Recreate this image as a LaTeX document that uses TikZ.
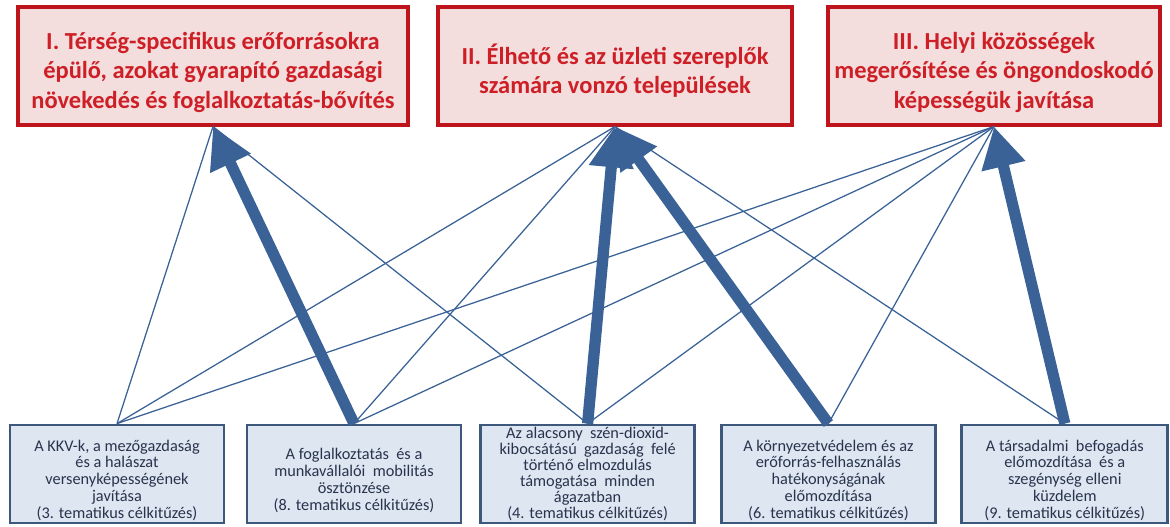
\documentclass[tikz,border=0pt]{standalone}
\usepackage{fontspec}
\setmainfont{Carlito}
\usepackage{tikz}
\usepackage{xcolor}
\usetikzlibrary{arrows.meta, positioning}
\definecolor{prioritycolor}{RGB}{243,221,221}
\definecolor{priorityborder}{RGB}{190,20,28}
\definecolor{prioritytext}{RGB}{206,30,38}
\definecolor{goalcolor}{RGB}{222,230,242}
\definecolor{goalborder}{RGB}{62,88,124}
\definecolor{goaltext}{RGB}{40,52,76}
\definecolor{linkcolor}{RGB}{58,98,150}
\newcommand{\prioritystrut}{\rule{0pt}{21pt}}
\newcommand{\goalstrut}{\rule{0pt}{17pt}}
\tikzstyle{priority} = [rectangle, draw=priorityborder, line width=2.2pt, fill=prioritycolor, text=prioritytext, align=center, font=\fontsize{17.4}{21}\selectfont\bfseries, minimum height=2.95cm, inner sep=2pt]
\tikzstyle{goal} = [rectangle, draw=goalborder, line width=2pt, fill=goalcolor, text=goaltext, align=center, font=\fontsize{11.6}{12}\selectfont, minimum width=5.35cm, minimum height=2.45cm, inner sep=0pt]
\tikzstyle{link} = [linkcolor, line width=0.9pt]
\tikzstyle{arrow} = [-{Triangle[width=30pt,length=29pt]}, linkcolor, line width=8pt]

\begin{document}
\begin{tikzpicture}
    \useasboundingbox (0,0) rectangle (29.25,13.15);

    % Priorities
    \node[priority, minimum width=9.75cm] (P1) at (5.325, 11.5) {\prioritystrut I. Térség-specifikus erőforrásokra\\épülő, azokat gyarapító gazdasági\\növekedés és foglalkoztatás-bővítés};
    \node[priority, minimum width=8.85cm] (P2) at (15.375, 11.5) {\prioritystrut II. Élhető és az üzleti szereplők\\számára vonzó települések};
    \node[priority, minimum width=8.3cm] (P3) at (24.85, 11.5) {\prioritystrut III. Helyi közösségek\\megerősítése és öngondoskodó\\képességük javítása};

    % Thematic objectives
    \node[goal] (T3) at (2.925, 1.3) {\goalstrut A KKV-k, a mezőgazdaság\\és a halászat\\versenyképességének\\javítása\\(3. tematikus célkitűzés)};
    \node[goal] (T8) at (8.85, 1.3) {\goalstrut A foglalkoztatás\ \ és a\\munkavállalói\ \ mobilitás\\ösztönzése\\(8. tematikus célkitűzés)};
    \node[goal, font=\fontsize{11.6}{11.4}\selectfont] (T4) at (14.69, 1.3) {Az alacsony\ \ szén-dioxid-\\kibocsátású\ \ gazdaság\ \ felé\\történő elmozdulás\\támogatása\ \ minden\\ágazatban\\(4. tematikus célkitűzés)};
    \node[goal] (T6) at (20.71, 1.3) {\goalstrut A környezetvédelem és az\\erőforrás-felhasználás\\hatékonyságának\\előmozdítása\\(6. tematikus célkitűzés)};
    \node[goal, minimum width=5.15cm] (T9) at (26.62, 1.3) {\goalstrut A társadalmi\ \ befogadás\\előmozdítása\ \ és a\\szegénység elleni\\küzdelem\\(9. tematikus célkitűzés)};

    % weak links
    \draw[link] (T3.north) -- (P1.south);
    \draw[link] (T3.north) -- (P2.south);
    \draw[link] (T3.north) -- (P3.south);
    \draw[link] (T8.north) -- (P2.south);
    \draw[link] (T8.north) -- (P3.south);
    \draw[link] (T4.north) -- (P1.south);
    \draw[link] (T4.north) -- (P3.south);
    \draw[link] (T6.north) -- (P3.south);
    \draw[link] (T9.north) -- (P2.south);

    % strong links
    \draw[arrow] (T8.north) -- (P1.south);
    \draw[arrow] (T4.north) -- (P2.south);
    \draw[arrow] (T6.north) -- (P2.south);
    \draw[arrow] (T9.north) -- (P3.south);

\end{tikzpicture}
\end{document}
